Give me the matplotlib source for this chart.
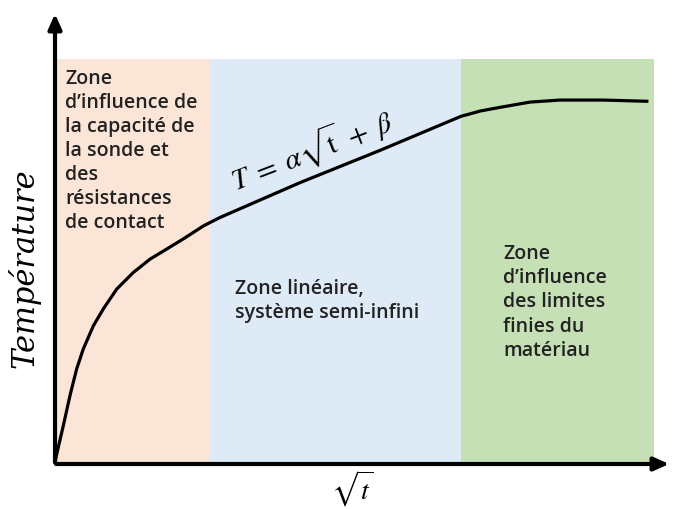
'''
Schematic: temperature rise vs sqrt(t) with the three zones of the probe test.
'''

import matplotlib.pyplot as plt

plt.rcParams['mathtext.fontset'] = 'stix'

# curve (x in % of zone width, y in % of zone height)
curve_x = [0, 0.17, 1.39, 2.50, 3.62, 4.72, 6.39, 8.06, 10.30, 13.07, 15.86,
           18.65, 21.42, 24.76, 27.55, 40.9, 54.3, 67.8, 69.3, 71.0, 74.3,
           79.3, 84.3, 91.5, 98.8]
curve_y = [0, 1.7, 9.5, 16.9, 23.5, 28.4, 34.1, 38.3, 43.2, 47.3, 50.6,
           53.1, 55.6, 58.8, 60.9, 69.5, 77.5, 85.9, 86.5, 87.2, 88.1,
           89.4, 89.9, 89.9, 89.6]

zone_edges = [0, 25.9, 67.8, 100]
zone_colors = ['#FBE5D6', '#DEEBF7', '#C5E0B4']
zone_labels = [
    "Zone\nd\u2019influence de\nla capacit\u00e9 de\nla sonde et\ndes\nr\u00e9sistances\nde contact",
    "Zone lin\u00e9aire,\nsyst\u00e8me semi-infini",
    "Zone\nd\u2019influence\ndes limites\nfinies du\nmat\u00e9riau",
]
label_pos = [(1.7, 97.8), (30.0, 45.9), (74.8, 54.5)]

fig = plt.figure(figsize=(6.75, 5.1), dpi=100)
ax = fig.add_axes([55 / 675, 45 / 510, 617 / 675, 453 / 510])
ax.set_xlim(0, 103)
ax.set_ylim(0, 111.9)
ax.axis('off')

for i in range(3):
    ax.fill_between([zone_edges[i], zone_edges[i + 1]], 0, 100,
                    color=zone_colors[i], lw=0, zorder=0)
    ax.text(label_pos[i][0], label_pos[i][1], zone_labels[i], ha='left', va='top',
            fontsize=14, family='Open Sans', weight='semibold', color='#222222',
            linespacing=1.27)

ax.plot(curve_x, curve_y, color='black', lw=2.3, zorder=3,
        solid_joinstyle='round')

ax.text(42.9, 77.8, r'$T\;=\;\alpha\sqrt{\mathrm{t}}\;+\;\beta$', fontsize=21,
        rotation=21, ha='center', va='center', rotation_mode='anchor')

# axes arrows
ax.annotate('', xy=(103, 0), xytext=(-0.3, 0),
            arrowprops=dict(arrowstyle='-|>,head_length=0.9,head_width=0.4',
                            color='black', lw=3), annotation_clip=False)
ax.annotate('', xy=(0, 111.9), xytext=(0, -0.3),
            arrowprops=dict(arrowstyle='-|>,head_length=0.9,head_width=0.4',
                            color='black', lw=3), annotation_clip=False)

fig.text(24 / 675, 1 - 268 / 510, 'Temp\u00e9rature', rotation=90, ha='center',
         va='center', fontsize=22, family='DejaVu Serif', style='italic')
fig.text(352 / 675, 1 - 489 / 510, r'$\sqrt{t}$', ha='center', va='center',
         fontsize=20)

plt.savefig('out.png')
